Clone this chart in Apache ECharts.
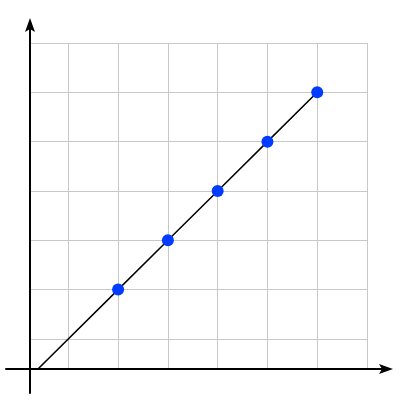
<!DOCTYPE html>
<html>
<head>
<meta charset="utf-8">
<script src="https://cdn.jsdelivr.net/npm/echarts@6/dist/echarts.min.js"></script>
<style>html,body{margin:0;padding:0;background:#fff;}#c{width:400px;height:400px;}</style>
</head>
<body>
<div id="c"></div>
<script>
// data
var pointX = [2, 3, 4, 5, 6];
var pointY = [2, 3, 4, 5, 6];
var lineX = [0.39, 2, 3, 4, 5, 6];
var lineY = [0.39, 2, 3, 4, 5, 6];
var xRange = [0.23, 7];
var yRange = [0.39, 7];

var arrowPath = 'path://M5,0L10,14L5,11L0,14Z';
var chart = echarts.init(document.getElementById('c'), null, {renderer: 'canvas'});
var hidden = {show: false};
chart.setOption({
  animation: false,
  backgroundColor: '#ffffff',
  grid: [
    {left: 30, right: 33, top: 43, bottom: 31},
    {left: 6, right: 14, top: 25, bottom: 7}
  ],
  xAxis: [
    {type: 'value', gridIndex: 0, min: xRange[0], max: xRange[1], minInterval: 1, maxInterval: 1,
     axisLine: hidden, axisTick: hidden, axisLabel: hidden,
     splitLine: {show: true, lineStyle: {color: '#c8c8c8', width: 1}}},
    {type: 'value', gridIndex: 1, min: -24, max: 356,
     axisLine: {show: true, onZero: true, symbol: ['none', arrowPath], symbolSize: [10, 14],
                lineStyle: {color: '#000', width: 2}},
     axisTick: hidden, axisLabel: hidden, splitLine: hidden}
  ],
  yAxis: [
    {type: 'value', gridIndex: 0, min: yRange[0], max: yRange[1], minInterval: 1, maxInterval: 1,
     axisLine: hidden, axisTick: hidden, axisLabel: hidden,
     splitLine: {show: true, lineStyle: {color: '#c8c8c8', width: 1}}},
    {type: 'value', gridIndex: 1, min: -24, max: 344,
     axisLine: {show: true, onZero: true, symbol: ['none', arrowPath], symbolSize: [10, 14],
                lineStyle: {color: '#000', width: 2}},
     axisTick: hidden, axisLabel: hidden, splitLine: hidden}
  ],
  series: [
    {type: 'line', xAxisIndex: 0, yAxisIndex: 0, showSymbol: false, symbol: 'none',
     lineStyle: {color: '#000', width: 1.5},
     data: lineX.map(function (x, i) { return [x, lineY[i]]; }), z: 3},
    {type: 'scatter', xAxisIndex: 0, yAxisIndex: 0, symbolSize: 12,
     itemStyle: {color: '#003cff', opacity: 1},
     data: pointX.map(function (x, i) { return [x, pointY[i]]; }), z: 4}
  ]
});
</script>
</body>
</html>
